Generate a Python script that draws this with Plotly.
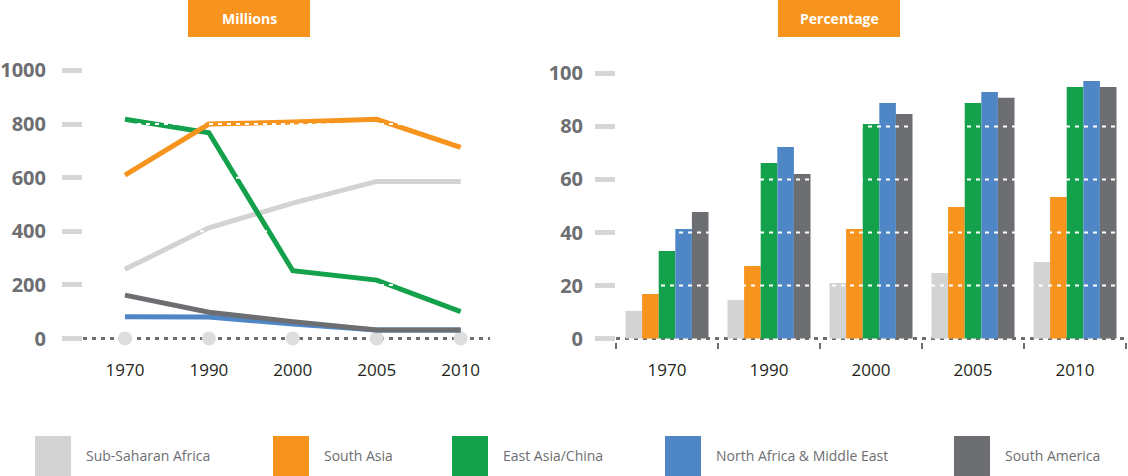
import plotly.graph_objects as go

# ---------------- data ----------------
years = ["1970", "1990", "2000", "2005", "2010"]
regions = ["Sub-Saharan Africa", "South Asia", "East Asia/China",
           "North Africa & Middle East", "South America"]
colors = ["#d3d3d3", "#f7941e", "#13a14b", "#4f86c6", "#6d6e71"]

# Millions (left panel)
mil_ssa = [258, 413, 505, 586, 586]
mil_sa = [610, 800, 808, 818, 713]
mil_ea = [818, 768, 253, 218, 100]
mil_na = [81, 80, 54, 32, 32]
mil_sam = [162, 98, 63, 32, 32]

# Percentage (right panel)
pct_ssa = [10.4, 14.5, 20.9, 24.7, 28.9]
pct_sa = [16.8, 27.4, 41.3, 49.6, 53.4]
pct_ea = [33.0, 66.2, 80.9, 88.9, 94.9]
pct_na = [41.3, 72.3, 88.9, 93.0, 97.2]
pct_sam = [47.7, 62.1, 84.7, 90.8, 94.9]

left_ticks = [0, 200, 400, 600, 800, 1000]
right_ticks = [0, 20, 40, 60, 80, 100]
panel_titles = ["Millions", "Percentage"]

mil_series = [mil_ssa, mil_sa, mil_ea, mil_na, mil_sam]
pct_series = [pct_ssa, pct_sa, pct_ea, pct_na, pct_sam]

# ---------------- layout constants ----------------
W, H = 1128, 476
FONT = "Open Sans"
GRAY_TXT = "#6d6e71"


def px(x):
    return x / W


def py(y):
    return 1 - y / H


y_dom = [py(342), py(45)]

fig = go.Figure()

# baseline circles (left)
fig.add_trace(go.Scatter(
    x=years, y=[0] * len(years), mode="markers",
    marker=dict(size=14, color="#dcdddc"), cliponaxis=False,
    hoverinfo="skip", showlegend=False, xaxis="x", yaxis="y"))

# lines, drawing order: SSA, NA, SAm, EA, SA
for i in [0, 3, 4, 2, 1]:
    fig.add_trace(go.Scatter(
        x=years, y=mil_series[i], mode="lines", name=regions[i],
        line=dict(color=colors[i], width=5), showlegend=False,
        xaxis="x", yaxis="y"))

# bars
for i in range(5):
    fig.add_trace(go.Bar(
        x=years, y=pct_series[i], name=regions[i],
        marker=dict(color=colors[i], line=dict(width=0)),
        showlegend=False, xaxis="x2", yaxis="y2"))

shapes = []
# zero dotted lines
for xr, yr in [("x domain", "y"), ("x2 domain", "y2")]:
    shapes.append(dict(type="line", xref=xr, yref=yr, x0=0, x1=1, y0=0, y1=0,
                       line=dict(color=GRAY_TXT, width=3, dash="4px,5px"),
                       layer="below"))
# white dashed grid above traces
for v in left_ticks[1:]:
    shapes.append(dict(type="line", xref="x domain", yref="y", x0=0, x1=1,
                       y0=v, y1=v, line=dict(color="white", width=2, dash="4px,5px"),
                       layer="above"))
for v in right_ticks[1:]:
    shapes.append(dict(type="line", xref="x2 domain", yref="y2", x0=0, x1=1,
                       y0=v, y1=v, line=dict(color="white", width=2, dash="4px,5px"),
                       layer="above"))

annotations = []
# title boxes
title_boxes = [(188, 310), (778, 900)]
for (x0, x1), t in zip(title_boxes, panel_titles):
    shapes.append(dict(type="rect", xref="paper", yref="paper",
                       x0=px(x0), x1=px(x1), y0=py(37), y1=1,
                       fillcolor="#f7941e", line=dict(width=0), layer="above"))
    annotations.append(dict(xref="paper", yref="paper", x=px((x0 + x1) / 2), y=py(18.5),
                            text=t, showarrow=False, xanchor="center", yanchor="middle",
                            font=dict(family=FONT, size=14, color="white", weight="bold")))

# legend
leg_left = [35, 273, 452, 665, 954]
for lx, name, c in zip(leg_left, regions, colors):
    shapes.append(dict(type="rect", xref="paper", yref="paper",
                       x0=px(lx), x1=px(lx + 36), y0=0, y1=py(436),
                       fillcolor=c, line=dict(width=0)))
    annotations.append(dict(xref="paper", yref="paper", x=px(lx + 49), y=py(455),
                            text=name, showarrow=False, xanchor="left", yanchor="middle",
                            font=dict(family=FONT, size=14, color=GRAY_TXT)))

fig.update_layout(
    template="none",
    width=W, height=H,
    margin=dict(l=0, r=0, t=0, b=0, pad=0),
    paper_bgcolor="white", plot_bgcolor="white",
    barmode="group", bargap=0.186, bargroupgap=0,
    shapes=shapes, annotations=annotations,
    showlegend=False,
    xaxis=dict(domain=[px(83), px(490)], type="category", range=[-0.5, 4.35],
               showgrid=False, zeroline=False, showline=False, ticks="",
               tickfont=dict(family=FONT, size=17, color="#231f20"),
               ticklabelstandoff=16, automargin=False, fixedrange=True),
    yaxis=dict(domain=y_dom, range=[-13, 1095.1], tickvals=left_ticks,
               showgrid=False, zeroline=False, showline=False,
               ticks="outside", ticklen=20, tickwidth=5, tickcolor="#d6d6d6",
               tickfont=dict(family=FONT, size=20, color=GRAY_TXT, weight="bold"),
               ticklabelstandoff=12, automargin=False, fixedrange=True),
    xaxis2=dict(domain=[px(616), px(1126)], type="category", anchor="y2",
                showgrid=False, zeroline=False, showline=False,
                ticks="outside", tickson="boundaries", ticklen=6, tickwidth=2,
                tickcolor=GRAY_TXT,
                tickfont=dict(family=FONT, size=17, color="#231f20"),
                ticklabelstandoff=16, automargin=False, fixedrange=True),
    yaxis2=dict(domain=y_dom, range=[-1.32, 110.75], tickvals=right_ticks, anchor="x2",
                showgrid=False, zeroline=False, showline=False,
                ticks="outside", ticklen=20, tickwidth=5, tickcolor="#d6d6d6",
                tickfont=dict(family=FONT, size=20, color=GRAY_TXT, weight="bold"),
                ticklabelstandoff=8, automargin=False, fixedrange=True),
)

fig.write_html("out.html")
